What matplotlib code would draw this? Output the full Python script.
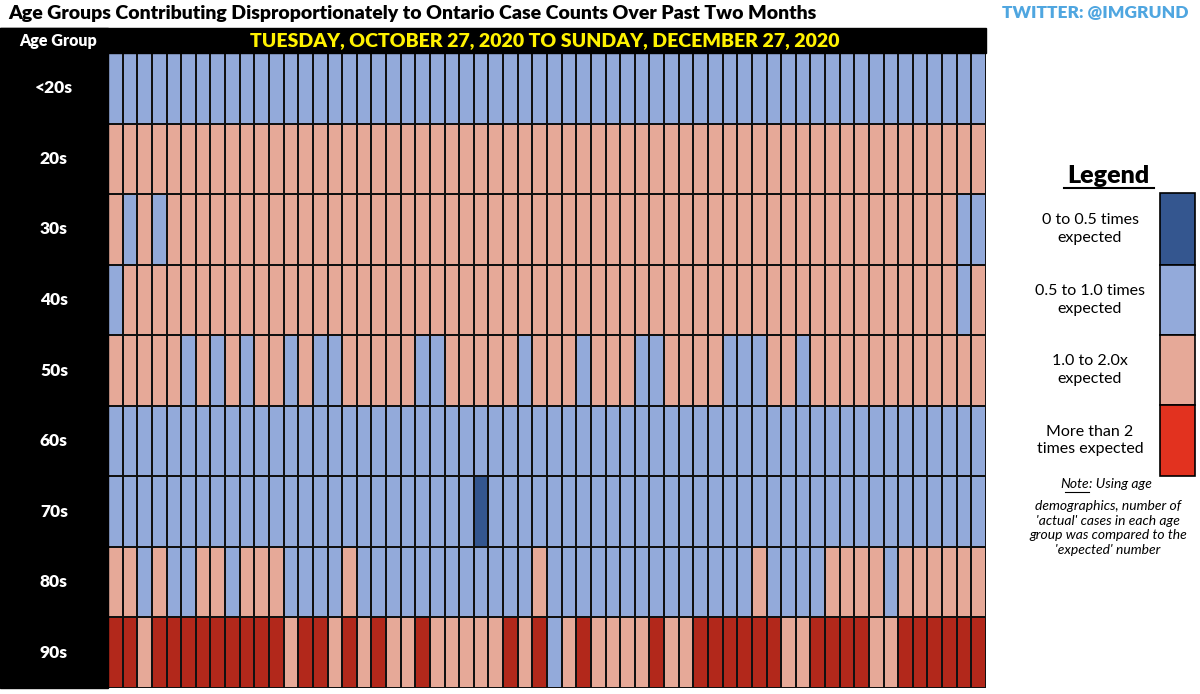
import matplotlib
matplotlib.use("Agg")
import matplotlib.pyplot as plt
import numpy as np
from matplotlib.colors import ListedColormap, BoundaryNorm
from matplotlib.patches import Rectangle

age_groups = ["<20s", "20s", "30s", "40s", "50s", "60s", "70s", "80s", "90s"]
ncols = 60
# 0: 0-0.5x, 1: 0.5-1.0x, 2: 1.0-2.0x, 3: >2x
row_u20 = [1]*60
row_20 = [2]*60
row_30 = [2,1,2,1] + [2]*54 + [1,1]
row_40 = [1] + [2]*57 + [1,2]
row_50 = [2,2,2,2,2,1,2,1,2,1, 2,2,1,2,1,1,2,2,2,2, 2,1,1,2,2,2,2,2,1,2,
          2,2,1,2,2,2,1,1,2,2, 2,2,1,1,1,2,2,1,2,2, 2,2,2,2,2,2,2,2,2,2]
row_60 = [1]*60
row_70 = [1]*25 + [0] + [1]*34
row_80 = [2,2,1,2,1,1,2,2,1,2, 2,2,1,1,1,1,2,1,1,1, 1,1,1,1,1,1,1,1,1,2,
          1,1,1,1,1,1,1,1,1,1, 1,1,1,1,2,1,1,1,1,2, 2,2,2,1,2,2,2,2,2,2]
row_90 = [3,3,2,3,3,3,3,3,3,3, 3,3,2,3,3,2,3,2,3,2, 2,3,2,2,2,2,2,3,2,3,
          1,2,3,2,2,2,2,3,2,2, 3,3,3,3,3,3,2,2,3,3, 3,3,2,2,3,3,3,3,3,3]
data = np.array([row_u20, row_20, row_30, row_40, row_50, row_60, row_70, row_80, row_90])

cell_colors = ["#34568F", "#93AADA", "#E6A998", "#B2281B"]
legend_colors = ["#34568F", "#93AADA", "#E6A998", "#E2321F"]
legend_labels = ["0 to 0.5 times\nexpected", "0.5 to 1.0 times\nexpected",
                 "1.0 to 2.0x\nexpected", "More than 2\ntimes expected"]

W, H = 1200, 694
fig = plt.figure(figsize=(12, 6.94), dpi=100)
plt.rcParams['font.family'] = ['Lato', 'DejaVu Sans']

def fx(x): return x / W
def fy(y): return 1 - y / H

fig.patches.append(Rectangle((fx(0), fy(688)), fx(108), fy(28) - fy(688), transform=fig.transFigure, color="black", zorder=0))
fig.patches.append(Rectangle((fx(0), fy(53)), fx(986), fy(28) - fy(53), transform=fig.transFigure, color="black", zorder=0))

fig.text(fx(8), fy(13), "Age Groups Contributing Disproportionately to Ontario Case Counts Over Past Two Months",
         fontsize=14, fontweight="heavy", va="center", ha="left")
fig.text(fx(1188), fy(13), "TWITTER: @IMGRUND", fontsize=12.5, fontweight="heavy", color="#4FA6E0", va="center", ha="right")
fig.text(fx(58), fy(41), "Age Group", fontsize=11.5, fontweight="heavy", color="white", va="center", ha="center")
fig.text(fx(545), fy(41), "TUESDAY, OCTOBER 27, 2020 TO SUNDAY, DECEMBER 27, 2020", fontsize=14,
         fontweight="heavy", color="#FFF200", va="center", ha="center")

ax = fig.add_axes([fx(108), fy(688), fx(986) - fx(108), fy(53) - fy(688)])
cmap = ListedColormap(cell_colors)
norm = BoundaryNorm([-0.5, 0.5, 1.5, 2.5, 3.5], 4)
ax.pcolormesh(data, cmap=cmap, norm=norm, edgecolors="#111111", linewidth=1.2)
ax.set_xlim(0, ncols)
ax.set_ylim(len(age_groups), 0)
ax.set_xticks([])
ax.set_yticks([])
for s in ax.spines.values():
    s.set_visible(False)

for i, g in enumerate(age_groups):
    y = 53 + (i + 0.5) * (635 / 9)
    fig.text(fx(54), fy(y), g, fontsize=12.5, fontweight="heavy", color="white", va="center", ha="center")

fig.text(fx(1108), fy(176), "Legend", fontsize=18, fontweight="heavy", va="center", ha="center")
fig.lines.append(plt.Line2D([fx(1064), fx(1154)], [fy(188), fy(188)], transform=fig.transFigure, color="black", lw=1.5))
bounds = [193, 265, 335, 405, 476]
for k in range(4):
    top, bot = bounds[k], bounds[k + 1]
    fig.patches.append(Rectangle((fx(1160), fy(bot)), fx(35), fy(top) - fy(bot),
                                 transform=fig.transFigure, facecolor=legend_colors[k], edgecolor="black", lw=1.2))
    fig.text(fx(1090), fy((top + bot) / 2), legend_labels[k], fontsize=11.5, va="center", ha="center", linespacing=1.35)

fig.text(fx(1089), fy(484), "Note", fontsize=10, style="italic", va="center", ha="right")
fig.text(fx(1089), fy(484), ": Using age", fontsize=10, style="italic", va="center", ha="left")
fig.lines.append(plt.Line2D([fx(1065), fx(1089)], [fy(492), fy(492)], transform=fig.transFigure, color="black", lw=0.8))
fig.text(fx(1108), fy(528), "demographics, number of\n'actual' cases in each age\ngroup was compared to the\n'expected' number",
         fontsize=10, style="italic", va="center", ha="center", linespacing=1.25)

fig.savefig("out.png", dpi=100)
